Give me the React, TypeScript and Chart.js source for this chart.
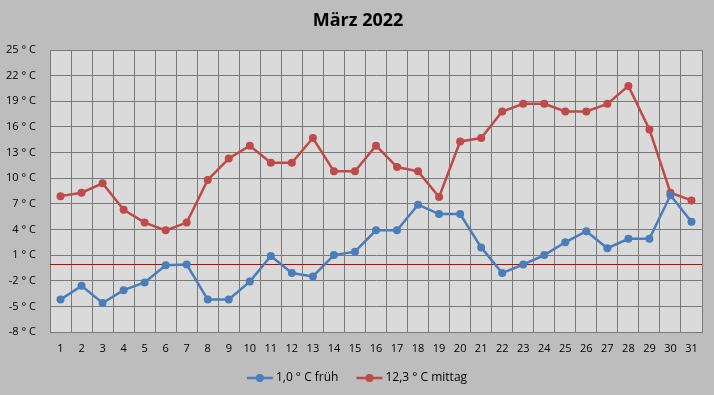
import React, { useEffect, useRef } from "react";
import { Chart, registerables } from "chart.js";

Chart.register(...registerables);

const title = "März 2022";
const days = ["1","2","3","4","5","6","7","8","9","10","11","12","13","14","15","16","17","18","19","20","21","22","23","24","25","26","27","28","29","30","31"];
const fruehLabel = "1,0 ° C früh";
const mittagLabel = "12,3 ° C mittag";
const frueh = [-4.2,-2.6,-4.6,-3.1,-2.2,-0.2,-0.1,-4.2,-4.2,-2.1,0.9,-1.1,-1.5,1.0,1.4,3.9,3.9,6.9,5.8,5.8,1.9,-1.1,-0.1,1.0,2.5,3.8,1.8,2.9,2.9,8.0,4.9];
const mittag = [7.9,8.3,9.4,6.3,4.8,3.9,4.8,9.8,12.3,13.8,11.8,11.8,14.7,10.8,10.8,13.8,11.3,10.8,7.8,14.3,14.7,17.8,18.7,18.7,17.8,17.8,18.7,20.8,15.7,8.3,7.4];
const yTicks = [-8,-5,-2,1,4,7,10,13,16,19,22,25];

const BLUE = "#4a7ebb";
const RED = "#be4b48";
const FONT = "'Open Sans', 'Noto Sans', sans-serif";

const decorPlugin = {
  id: "decor",
  beforeDraw(chart: any) {
    const { ctx, chartArea, width, height } = chart;
    ctx.save();
    ctx.fillStyle = "#bdbdbd";
    ctx.fillRect(0, 0, width, height);
    ctx.fillStyle = "#dadada";
    ctx.fillRect(chartArea.left, chartArea.top, chartArea.right - chartArea.left, chartArea.bottom - chartArea.top);
    ctx.restore();
  },
  beforeDatasetsDraw(chart: any) {
    const { ctx, chartArea, scales } = chart;
    const y0 = Math.round(scales.y.getPixelForValue(0)) + 0.5;
    ctx.save();
    ctx.strokeStyle = "#d00000";
    ctx.lineWidth = 1;
    ctx.beginPath();
    ctx.moveTo(chartArea.left, y0);
    ctx.lineTo(chartArea.right, y0);
    ctx.stroke();
    ctx.restore();
  },
  afterDraw(chart: any) {
    const { ctx, width } = chart;
    ctx.save();
    // title
    ctx.fillStyle = "#000";
    ctx.font = `bold 18px ${FONT}`;
    ctx.textAlign = "center";
    ctx.textBaseline = "middle";
    ctx.fillText(title, width / 2 + 1, 21);
    // legend
    ctx.font = `12px ${FONT}`;
    ctx.textAlign = "left";
    const items = chart.data.datasets.map((d: any) => ({ label: d.label, color: d.borderColor }));
    const lineW = 26, gap = 3, itemGap = 18;
    const widths = items.map((it: any) => lineW + gap + ctx.measureText(it.label).width);
    const total = widths.reduce((a: number, b: number) => a + b, 0) + itemGap * (items.length - 1);
    let x = width / 2 - total / 2;
    const y = 378;
    items.forEach((it: any, i: number) => {
      ctx.strokeStyle = it.color;
      ctx.lineWidth = 2.5;
      ctx.beginPath();
      ctx.moveTo(x, y);
      ctx.lineTo(x + lineW, y);
      ctx.stroke();
      ctx.fillStyle = it.color;
      ctx.beginPath();
      ctx.arc(x + lineW / 2, y, 4, 0, Math.PI * 2);
      ctx.fill();
      ctx.fillStyle = "#000";
      ctx.fillText(it.label, x + lineW + gap, y);
      x += widths[i] + itemGap;
    });
    ctx.restore();
  },
};

export default function App() {
  const ref = useRef<HTMLCanvasElement>(null);
  useEffect(() => {
    if (!ref.current) return;
    const chart = new Chart(ref.current, {
      type: "line",
      data: {
        labels: days,
        datasets: [
          {
            label: fruehLabel,
            data: frueh,
            borderColor: BLUE,
            backgroundColor: BLUE,
            borderWidth: 2.5,
            pointRadius: 4,
            pointHoverRadius: 4,
            pointBorderWidth: 0,
            tension: 0,
          },
          {
            label: mittagLabel,
            data: mittag,
            borderColor: RED,
            backgroundColor: RED,
            borderWidth: 2.5,
            pointRadius: 4,
            pointHoverRadius: 4,
            pointBorderWidth: 0,
            tension: 0,
          },
        ],
      },
      options: {
        responsive: false,
        animation: false,
        layout: { padding: { top: 50, right: 12, left: 0, bottom: 0 } },
        plugins: {
          legend: { display: false },
          title: { display: false },
          tooltip: { enabled: false },
        },
        scales: {
          x: {
            offset: true,
            grid: { offset: true, color: "#7a7a7a", lineWidth: 1, drawTicks: false },
            border: { display: true, color: "#7a7a7a" },
            ticks: { padding: 10, color: "#000", font: { family: FONT, size: 11 }, maxRotation: 0, autoSkip: false },
            afterFit(scale: any) { scale.height = 63; },
          },
          y: {
            min: -8,
            max: 25,
            grid: { color: "#7a7a7a", lineWidth: 1, drawTicks: false },
            border: { display: true, color: "#7a7a7a" },
            ticks: {
              padding: 14,
              color: "#000",
              font: { family: FONT, size: 11 },
              callback: (v: any) => `${v} ° C`,
            },
            afterBuildTicks(scale: any) { scale.ticks = yTicks.map((v) => ({ value: v })); },
            afterFit(scale: any) { scale.width = 50; },
          },
        },
      },
      plugins: [decorPlugin],
    });
    return () => chart.destroy();
  }, []);
  return (
    <div style={{ position: "fixed", left: 0, top: 0, width: 714, height: 395, background: "#bdbdbd" }}>
      <canvas ref={ref} width={714} height={395} style={{ width: 714, height: 395, display: "block" }} />
    </div>
  );
}
